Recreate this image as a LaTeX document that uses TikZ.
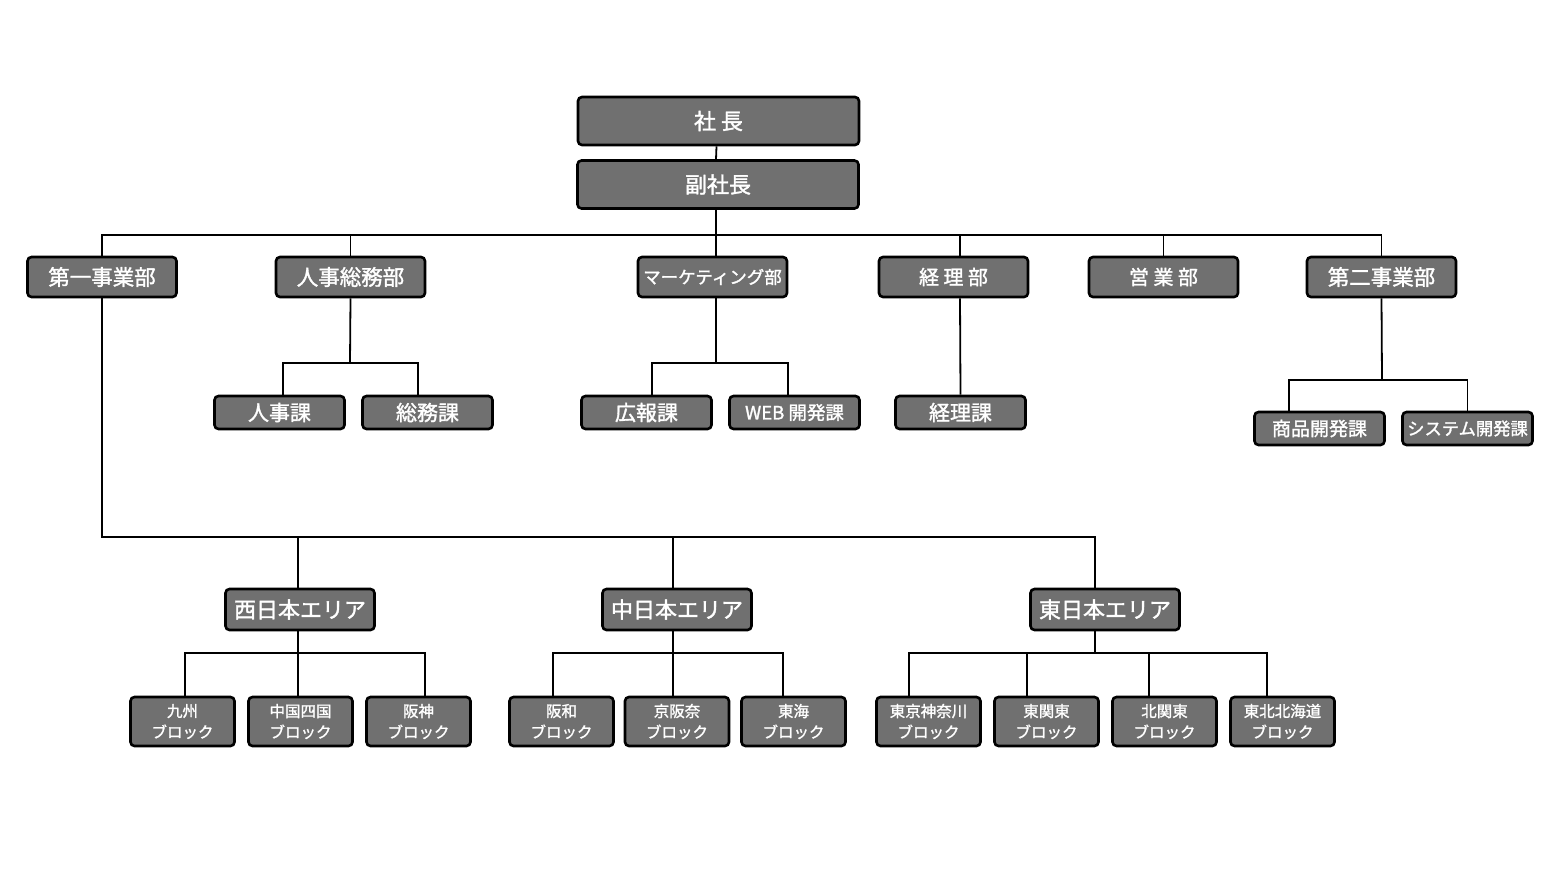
\documentclass[tikz,border=0pt]{standalone}
\usepackage{fontspec}
\setmainfont{Noto Sans CJK JP}[FakeBold=1.5]
\definecolor{boxgray}{RGB}{112,112,112}
\begin{document}
\begin{tikzpicture}[x=1pt,y=-1pt,
  box/.style={draw=black, fill=boxgray, line width=2.6pt, rounded corners=4pt, text=white, inner sep=0pt, align=center},
  bigbox/.style={box, minimum width=281, minimum height=48, font=\fontsize{22}{24}\selectfont},
  dept/.style={box, minimum width=149, minimum height=40, font=\fontsize{21.5}{24}\selectfont},
  sect/.style={box, minimum width=130, minimum height=33, font=\fontsize{21}{22}\selectfont},
  area/.style={box, minimum width=149, minimum height=41, font=\fontsize{22}{24}\selectfont},
  blk/.style={box, minimum width=104, minimum height=49, font=\fontsize{15.5}{21}\selectfont},
  conn/.style={line width=1.8pt}]
\useasboundingbox (0,0) rectangle (1561,884);
\fill[white] (0,0) rectangle (1561,884);

% nodes
\node[bigbox] (shacho) at (718.5,121) {社 長};
\node[bigbox] (fuku) at (718,184.5) {副社長};

\node[dept] (d1) at (102,277) {第一事業部};
\node[dept] (d2) at (350.5,277) {人事総務部};
\node[dept, font=\fontsize{17.5}{20}\selectfont] (d3) at (712.5,277) {マーケティング部};
\node[dept, font=\fontsize{20}{24}\selectfont] (d4) at (953.5,277) {経 理 部};
\node[dept, font=\fontsize{20}{24}\selectfont] (d5) at (1163.5,277) {営 業 部};
\node[dept] (d6) at (1381.5,277) {第二事業部};

\node[sect] (s1) at (279.5,412.5) {人事課};
\node[sect] (s2) at (427.5,412.5) {総務課};
\node[sect] (s3) at (646.5,412.5) {広報課};
\node[sect, font=\fontsize{18.5}{20}\selectfont] (s4) at (794.5,412.5) {WEB 開発課};
\node[sect] (s5) at (960.5,412.5) {経理課};
\node[sect, font=\fontsize{19}{20}\selectfont] (s6) at (1319.5,428.5) {商品開発課};
\node[sect, font=\fontsize{17.3}{20}\selectfont] (s7) at (1467.5,428.5) {システム開発課};

\node[area] (a1) at (300,609.5) {西日本エリア};
\node[area] (a2) at (677,609.5) {中日本エリア};
\node[area] (a3) at (1105,609.5) {東日本エリア};

\node[blk] (k1) at (182.5,721.5) {九州\\ブロック};
\node[blk] (k2) at (300.5,721.5) {中国四国\\ブロック};
\node[blk] (k3) at (418.5,721.5) {阪神\\ブロック};
\node[blk] (k4) at (561.5,721.5) {阪和\\ブロック};
\node[blk] (k5) at (677,721.5) {京阪奈\\ブロック};
\node[blk] (k6) at (793.5,721.5) {東海\\ブロック};
\node[blk] (k7) at (928.5,721.5) {東京神奈川\\ブロック};
\node[blk] (k8) at (1046.5,721.5) {東関東\\ブロック};
\node[blk] (k9) at (1164.5,721.5) {北関東\\ブロック};
\node[blk] (k10) at (1282.5,721.5) {東北北海道\\ブロック};

% bus coordinates
\coordinate (bus) at (716,235);
\coordinate (b2) at (350,363);
\coordinate (b3) at (716,363);
\coordinate (b6) at (1382,380);
\coordinate (b1) at (102,537);
\coordinate (c1) at (298,653);
\coordinate (c2) at (673,653);
\coordinate (c3) at (1095,653);

% top
\draw[conn] ([xshift=-2]shacho.south) -- ([xshift=-2]fuku.north);
\draw[conn] ([xshift=-2]fuku.south) -- (bus);
\draw[conn] (d1.north) |- (bus) -| (d6.north);
\draw[conn] (d2.north) -- (d2.north |- bus);
\coordinate (t3) at ([xshift=3.5]d3.north);
\draw[conn] (t3) -- (t3 |- bus);
\coordinate (t4) at ([xshift=6.5]d4.north);
\draw[conn] (t4) -- (t4 |- bus);
\draw[conn] (d5.north) -- (d5.north |- bus);

% 人事総務部
\draw[conn] (d2.south) -- (b2);
\draw[conn] ([xshift=3.5]s1.north) |- (b2) -| ([xshift=-9.5]s2.north);
% マーケティング部
\draw[conn] ([xshift=3.5]d3.south) -- (b3);
\draw[conn] ([xshift=5.5]s3.north) |- (b3) -| ([xshift=-6.5]s4.north);
% 経理部
\draw[conn] ([xshift=6.5]d4.south) -- (s5.north);
% 第二事業部
\draw[conn] (d6.south) -- (b6);
\draw[conn] ([xshift=-30.5]s6.north) |- (b6) -| (s7.north);

% 第一事業部
\coordinate (u1) at ([xshift=-2]a1.north);
\coordinate (u2) at ([xshift=-4]a2.north);
\coordinate (u3) at ([xshift=-10]a3.north);
\draw[conn] (d1.south) -- (b1) -| (u3);
\draw[conn] (u1) -- (u1 |- b1);
\draw[conn] (u2) -- (u2 |- b1);

% 西日本
\draw[conn] ([xshift=-2]a1.south) -- (c1);
\draw[conn] ([xshift=2.5]k1.north) |- (c1) -| ([xshift=6.5]k3.north);
\coordinate (v2) at ([xshift=-2.5]k2.north);
\draw[conn] (v2) -- (v2 |- c1);
% 中日本
\draw[conn] ([xshift=-4]a2.south) -- (c2);
\draw[conn] ([xshift=-8.5]k4.north) |- (c2) -| ([xshift=-10.5]k6.north);
\coordinate (v5) at ([xshift=-4]k5.north);
\draw[conn] (v5) -- (v5 |- c2);
% 東日本
\draw[conn] ([xshift=-10]a3.south) -- (c3);
\draw[conn] ([xshift=-19.5]k7.north) |- (c3) -| ([xshift=-15.5]k10.north);
\coordinate (v8) at ([xshift=-19.5]k8.north);
\draw[conn] (v8) -- (v8 |- c3);
\coordinate (v9) at ([xshift=-15.5]k9.north);
\draw[conn] (v9) -- (v9 |- c3);
\end{tikzpicture}
\end{document}
